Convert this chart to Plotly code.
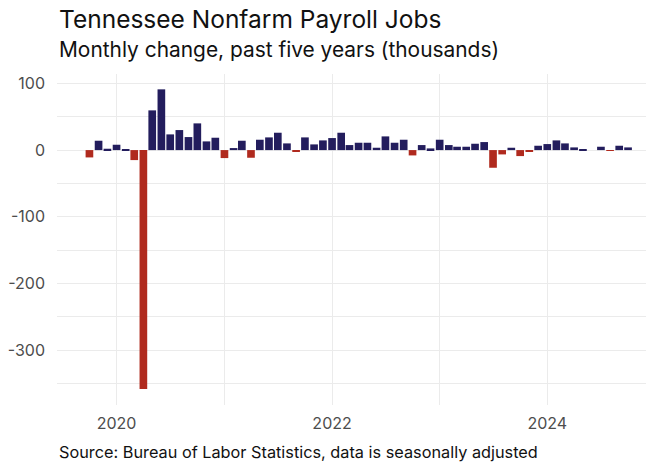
import pandas as pd
import plotly.graph_objects as go

# Monthly change in Tennessee nonfarm payroll jobs (thousands), Oct 2019 - Oct 2024
months = pd.date_range("2019-10-01", periods=61, freq="MS")
changes = [
    -11, 14, 2,                                                   # 2019 Oct-Dec
    8, 1.5, -15, -358, 59.5, 91, 23.5, 30, 19.5, 40, 13, 18.5,     # 2020
    -12, 3, 14, -11.5, 15.5, 19, 26, 10, -2, 19, 8.5, 14.5,        # 2021
    18, 26, 7.5, 11, 11, 3.5, 20.5, 11, 15.5, -8, 7.5, 2.5,        # 2022
    15.5, 7.5, 5, 5, 9.5, 12, -26.5, -6.5, 3.5, -9, -2, 6.5,       # 2023
    9, 14.5, 10, 4, 1.5, 0, 5, -1, 6.5, 4,                         # 2024 Jan-Oct
]
y_ticks = [-300, -200, -100, 0, 100]
y_tick_text = [str(v) for v in y_ticks]
x_ticks = ["2020-01-01", "2022-01-01", "2024-01-01"]
x_tick_text = ["2020", "2022", "2024"]

POS = "#231d5d"
NEG = "#b02a1e"
colors = [POS if v >= 0 else NEG for v in changes]

FONT = "Inter"
# the page adds an 8px body margin, so the figure is 8px smaller and shifted
W, H = 646, 458
ML, MR, MT, MB = 47, 0, 66, 61
ph = H - MT - MB

fig = go.Figure(go.Bar(
    x=months, y=changes,
    marker=dict(color=colors, line=dict(width=0)),
    width=26 * 86400000,
    hoverinfo="x+y",
))

grid = "#ebebeb"
fig.update_layout(
    width=W, height=H,
    margin=dict(l=ML, r=MR, t=MT, b=MB),
    paper_bgcolor="white", plot_bgcolor="white",
    showlegend=False,
    font=dict(family=FONT, color="#4d4d4d", size=16),
    xaxis=dict(
        type="date",
        range=["2019-06-13", "2024-12-28"],
        tickvals=x_ticks, ticktext=x_tick_text,
        showgrid=True, gridcolor=grid, gridwidth=1.2,
        minor=dict(tickvals=["2021-01-01", "2023-01-01"], showgrid=True,
                   gridcolor=grid, gridwidth=1.2),
        zeroline=False, showline=False, ticks="",
        ticklabelstandoff=7,
        tickfont=dict(family=FONT, size=16, color="#4d4d4d"),
    ),
    yaxis=dict(
        range=[-382, 114],
        tickvals=y_ticks, ticktext=y_tick_text,
        showgrid=True, gridcolor=grid, gridwidth=1.2,
        minor=dict(dtick=50, tick0=0, showgrid=True, gridcolor=grid, gridwidth=1.2),
        zeroline=False, showline=False, ticks="",
        ticklabelstandoff=11,
        tickfont=dict(family=FONT, size=16, color="#4d4d4d"),
    ),
    annotations=[
        dict(text="Tennessee Nonfarm Payroll Jobs", xref="paper", yref="paper",
             x=0, y=1 + (MT - 11) / ph, xanchor="left", yanchor="middle",
             showarrow=False, font=dict(family=FONT, size=24.5, color="#111111")),
        dict(text="Monthly change, past five years (thousands)", xref="paper", yref="paper",
             x=0, y=1 + (MT - 42) / ph, xanchor="left", yanchor="middle",
             showarrow=False, font=dict(family=FONT, size=20.9, color="#111111")),
        dict(text="Source: Bureau of Labor Statistics, data is seasonally adjusted",
             xref="paper", yref="paper",
             x=0, y=-(444 - (H - MB)) / ph, xanchor="left", yanchor="middle",
             showarrow=False, font=dict(family=FONT, size=16.3, color="#111111")),
    ],
)

fig.write_html("out.html")
